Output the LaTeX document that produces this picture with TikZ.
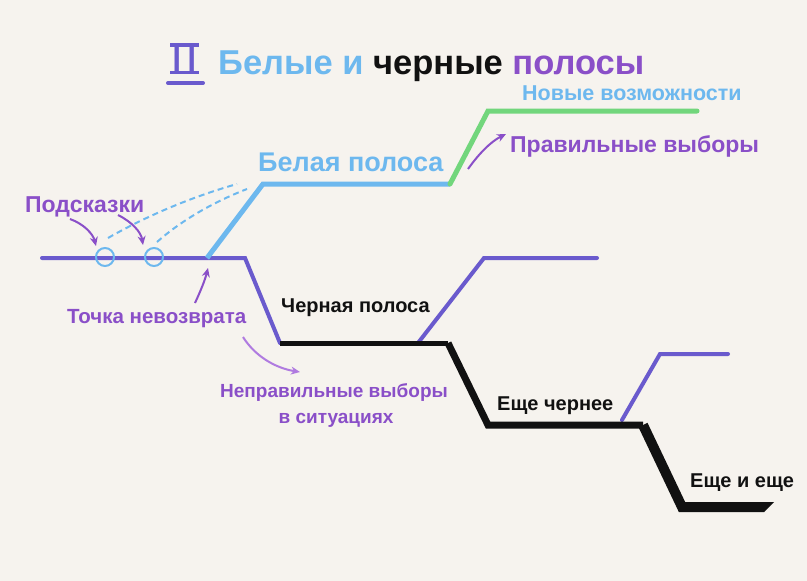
\documentclass[tikz,border=0pt]{standalone}
\usepackage{fontspec}
\setmainfont{Liberation Sans}
\newfontfamily\romfont{Liberation Serif}
\usetikzlibrary{arrows.meta}
\definecolor{bg}{HTML}{F6F3EE}
\definecolor{lblue}{HTML}{6DB8EE}
\definecolor{slate}{HTML}{6A5ACD}
\definecolor{lgreen}{HTML}{72D67C}
\definecolor{vtext}{HTML}{8A4FC8}
\definecolor{lvio}{HTML}{B07BE0}
\definecolor{ink}{HTML}{111111}
\tikzset{
  lbl/.style={anchor=base west, inner sep=0pt, font=\bfseries},
  arr/.style={line width=2pt, draw=vtext, -{Stealth[length=9pt,width=8pt]}},
  hintdash/.style={line width=2pt, draw=lblue, dash pattern=on 6pt off 4pt},
}
\begin{document}
\begin{tikzpicture}[x=1pt,y=-1pt]
\fill[bg] (0,0) rectangle (807,581);
\useasboundingbox (0,0) rectangle (807,581);
% title
\node[anchor=base, inner sep=0pt, text=slate] (num) at (184.5,74) {\fontsize{46}{48}\romfont II};
\fill[slate] (170,43) rectangle (199,46.5);
\fill[slate] (170,70.5) rectangle (199,74);
\draw[slate, line width=4pt, line cap=round] (168,83) -- (203,83);
\node[lbl] (title) at (218,74) {\fontsize{34.5}{40}\bfseries\textcolor{lblue}{Белые и} \textcolor{ink}{черные} \textcolor{vtext}{полосы}};
% key points
\coordinate (s0) at (42,258);
\coordinate (s1) at (245,258);
\coordinate (s2) at (280,343);
\coordinate (b1) at (448,343);
\coordinate (b2) at (488,425);
\coordinate (b3) at (643,425);
\coordinate (b4) at (682,507);
\coordinate (b5) at (764,507);
\coordinate (w0) at (207,258);
\coordinate (w1) at (263,184);
\coordinate (w2) at (450,184);
\coordinate (g1) at (488,111);
\coordinate (g2) at (697,111);
\coordinate (p0) at (418,343);
\coordinate (p1) at (484,258);
\coordinate (p2) at (597,258);
\coordinate (q0) at (622,420);
\coordinate (q1) at (660,354);
\coordinate (q2) at (728,354);
% lines
\draw[slate, line width=4pt, line cap=round, line join=miter] (s0) -- (s1) -- (s2);
\draw[lblue, line width=5pt, line join=miter] (w0) -- (w1) -- (w2);
\draw[lgreen, line width=5pt, line cap=round, line join=miter] (w2) -- (g1) -- (g2);
\draw[slate, line width=4pt, line cap=round, line join=miter] (p0) -- (p1) -- (p2);
\draw[slate, line width=4pt, line cap=round, line join=miter] (q0) -- (q1) -- (q2);
\draw[ink, line width=5pt] (s2) -- (b1);
\draw[ink, line width=7pt, line join=miter] (b1) -- (b2) -- (b3);
\draw[ink, line width=10pt, line join=miter] (b3) -- (b4) -- (b5);
\fill[ink] (764,502) -- (774,502) -- (764,512) -- cycle;
% hints
\node[draw=lblue, line width=2pt, circle, minimum size=18pt, inner sep=0pt] (c1) at (105,257) {};
\node[draw=lblue, line width=2pt, circle, minimum size=18pt, inner sep=0pt] (c2) at (154,257) {};
\coordinate (h1) at (108,238);
\coordinate (h2) at (157,242);
\coordinate (d1) at (237,184);
\coordinate (d2) at (247,189);
\draw[hintdash] (h1) .. controls (150,214) and (195,196) .. (d1);
\draw[hintdash] (h2) .. controls (183,219) and (216,201) .. (d2);
% labels
\node[lbl, text=lblue] (newop) at (522,100) {\fontsize{21.5}{24}\selectfont Новые возможности};
\node[lbl, text=vtext] (right) at (510,152) {\fontsize{23}{26}\selectfont Правильные выборы};
\node[lbl, text=lblue] (white) at (258,171) {\fontsize{27}{30}\selectfont Белая полоса};
\node[lbl, text=vtext] (hint) at (25,212) {\fontsize{23}{26}\selectfont Подсказки};
\node[lbl, text=vtext] (noret) at (67,323) {\fontsize{20.5}{26}\selectfont Точка невозврата};
\node[lbl, text=ink] (black1) at (281,312) {\fontsize{20}{24}\selectfont Черная полоса};
\node[anchor=base, inner sep=0pt, text=vtext, font=\fontsize{19}{26}\selectfont\bfseries] (wrong1) at (334,397) {Неправильные выборы};
\node[anchor=base, inner sep=0pt, text=vtext, font=\fontsize{19}{26}\selectfont\bfseries] (wrong2) at (336,423) {в ситуациях};
\node[lbl, text=ink] (black2) at (497,410) {\fontsize{20}{24}\selectfont Еще чернее};
\node[lbl, text=ink] (black3) at (690,487) {\fontsize{20}{24}\selectfont Еще и еще};
% arrows
\coordinate (a1s) at (70,219); \coordinate (a1e) at (96,246);
\coordinate (a2s) at (118,215); \coordinate (a2e) at (143,245);
\coordinate (a3s) at (195,303); \coordinate (a3e) at (208,268);
\coordinate (a4s) at (243,337); \coordinate (a4e) at (300,372);
\coordinate (a5s) at (468,169); \coordinate (a5e) at (506,134);
\draw[arr] (a1s) .. controls (84,224) and (93,234) .. (a1e);
\draw[arr] (a2s) .. controls (132,222) and (141,232) .. (a2e);
\draw[arr] (a3s) .. controls (201,290) and (205,280) .. (a3e);
\draw[arr, draw=lvio] (a4s) .. controls (255,356) and (275,368) .. (a4e);
\draw[arr] (a5s) .. controls (478,155) and (490,142) .. (a5e);
\end{tikzpicture}
\end{document}
